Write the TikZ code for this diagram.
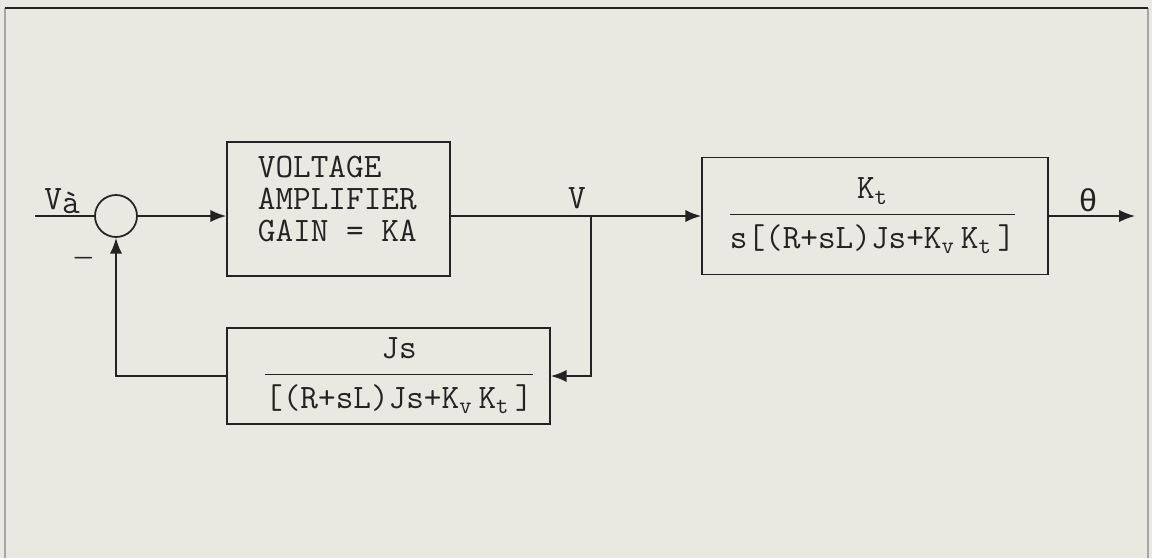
\documentclass[tikz,border=0pt]{standalone}
\usepackage{amsmath}
\usepackage{fontspec}
\newfontfamily\greekmono{Liberation Mono}
\usepackage{tikz}
\usetikzlibrary{arrows.meta}

\definecolor{paper}{RGB}{233,233,225}
\definecolor{ink}{RGB}{35,35,35}
\newcommand{\typew}{\fontsize{19.5}{18}\selectfont\ttfamily}
\newcommand{\tw}[1]{\texttt{#1}}

\tikzset{
    block/.style={draw, line width=1pt, inner sep=0pt},
    sumblk/.style={draw, circle, line width=1pt, minimum size=0.84cm, inner sep=0pt},
    txt/.style={inner sep=0pt}
}

\begin{document}
\begin{tikzpicture}[>={Latex[length=9pt,width=7pt]}, line width=1pt, color=ink, font=\typew]
    % paper and frame
    \fill[paper] (0,0) rectangle (23.04,11.16);
    \useasboundingbox (0,0) rectangle (23.04,11.16);
    \draw[gray!70] (0.10,0) -- (0.10,11.00);
    \draw[gray!70] (22.96,0) -- (22.96,11.00);
    \draw (0.10,11.00) -- (22.96,11.00);
    % blocks
    \node[sumblk] (sum) at (2.32,6.84) {};
    \node[block, minimum width=4.46cm, minimum height=2.68cm] (amp) at (6.77,6.98) {};
    \node[block, minimum width=6.92cm, minimum height=2.34cm] (motor) at (17.50,6.84) {};
    \node[block, minimum width=6.46cm, minimum height=1.92cm] (fb) at (7.77,3.64) {};
    % block texts
    \node[txt, anchor=west, align=left] (amptxt) at (5.14,7.18) {VOLTAGE\\AMPLIFIER\\GAIN = KA};
    \node[txt] (motortxt) at (17.45,6.84)
        {$\genfrac{}{}{1pt}{0}{\tw{K}_{\tw{t}}}{\tw{s[(R+sL)Js+K}_{\tw{v}}\,\tw{K}_{\tw{t}}\tw{\,]}}$};
    \node[txt] (fbtxt) at (7.98,3.64)
        {$\genfrac{}{}{1pt}{0}{\tw{Js}}{\tw{[(R+sL)Js+K}_{\tw{v}}\,\tw{K}_{\tw{t}}\tw{\,]}}$};
    % signals
    \coordinate (in) at (0.70,6.84);
    \coordinate (br) at (11.82,6.84);
    \coordinate (out) at (22.70,6.84);
    \draw (in) -- (sum.west);
    \draw[->] (sum.east) -- (sum.east -| amp.west);
    \draw[->] (sum.east -| amp.east) -- (motor.west);
    \draw[->] (motor.east) -- (out);
    \draw[->] (br) |- (fb.east);
    \draw[->] (fb.west) -| (sum.south);
    % labels
    \node[txt] (vin) at (1.24,7.14) {V\raisebox{-2.5pt}{\`a}};
    \node[txt, font=\fontsize{15}{15}\selectfont] (minus) at (1.67,6.00) {$\boldsymbol{-}$};
    \node[txt] (vmid) at (11.54,7.20) {V};
    \node[txt, font=\fontsize{18}{18}\selectfont\greekmono] (theta) at (21.76,7.16) {θ};
\end{tikzpicture}
\end{document}
